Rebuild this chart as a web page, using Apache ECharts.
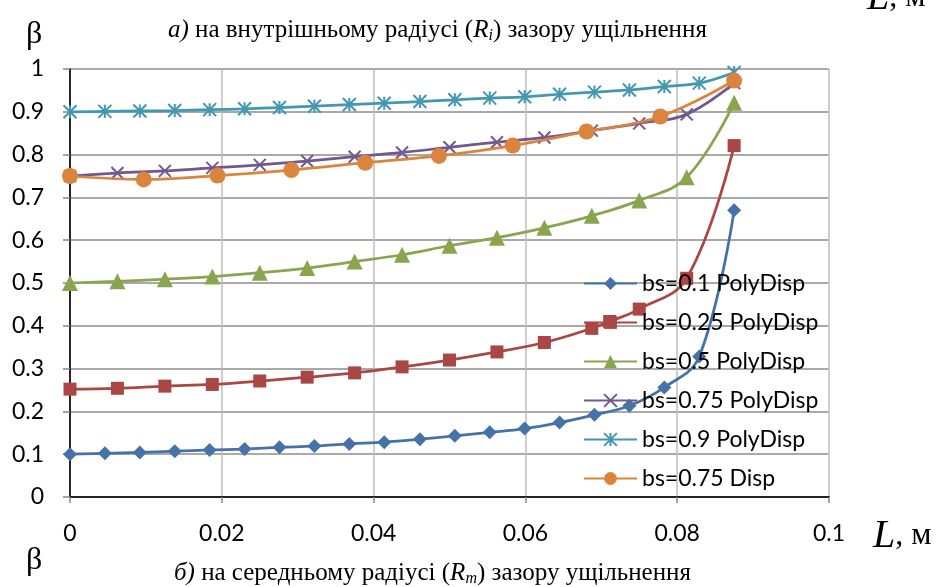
<!DOCTYPE html>
<html>
<head>
<meta charset="utf-8">
<script src="https://cdn.jsdelivr.net/npm/echarts@6/dist/echarts.min.js"></script>
<style>
html,body{margin:0;padding:0;background:#fff;}
#chart{width:945px;height:587px;}
</style>
</head>
<body>
<div id="chart"></div>
<script>
// ---- data ----
var seriesNames = ['bs=0.1 PolyDisp','bs=0.25 PolyDisp','bs=0.5 PolyDisp','bs=0.75 PolyDisp','bs=0.9 PolyDisp','bs=0.75 Disp'];
var xFine = [0, 0.0046, 0.0092, 0.0138, 0.0184, 0.0230, 0.0276, 0.0322, 0.0368, 0.0414, 0.0461, 0.0507, 0.0553, 0.0599, 0.0645, 0.0691, 0.0737, 0.0783, 0.0829, 0.0875];
var xMid = [0, 0.00625, 0.0125, 0.01875, 0.025, 0.03125, 0.0375, 0.04375, 0.05, 0.05625, 0.0625, 0.06875, 0.075, 0.08125, 0.0875];
var xRed = [0, 0.00625, 0.0125, 0.01875, 0.025, 0.03125, 0.0375, 0.04375, 0.05, 0.05625, 0.0625, 0.06875, 0.0711, 0.075, 0.08125, 0.0875];
var xCoarse = [0, 0.00972, 0.01944, 0.02917, 0.03889, 0.04861, 0.05833, 0.06806, 0.07778, 0.0875];
var yBs01 = [0.100,0.102,0.104,0.107,0.110,0.112,0.116,0.119,0.124,0.128,0.135,0.143,0.151,0.160,0.174,0.192,0.213,0.256,0.328,0.670];
var yBs025 = [0.252,0.254,0.259,0.263,0.271,0.280,0.290,0.304,0.320,0.339,0.361,0.394,0.410,0.439,0.511,0.821];
var yBs05 = [0.500,0.504,0.509,0.515,0.524,0.535,0.550,0.566,0.587,0.606,0.629,0.657,0.693,0.747,0.921];
var yBs075 = [0.750,0.757,0.762,0.769,0.776,0.785,0.795,0.805,0.817,0.829,0.840,0.856,0.873,0.894,0.967];
var yBs09 = [0.900,0.901,0.902,0.903,0.905,0.907,0.910,0.913,0.917,0.920,0.924,0.928,0.932,0.935,0.941,0.946,0.951,0.959,0.967,0.992];
var yBs075Disp = [0.750,0.742,0.751,0.764,0.781,0.797,0.821,0.854,0.889,0.973];
var xTicks = [0, 0.02, 0.04, 0.06, 0.08, 0.1];
var yTicks = [0, 0.1, 0.2, 0.3, 0.4, 0.5, 0.6, 0.7, 0.8, 0.9, 1];

function pairs(xs, ys){ return xs.map(function(x,i){ return [x, ys[i]]; }); }

var colors = ['#4572A7','#AA4643','#89A54E','#71588F','#4198AF','#DB843D'];
var xPath = 'path://M0,0L10,10M10,0L0,10';
var starPath = 'path://M5,0L5,10M0,0L10,10M10,0L0,10';
var AX_FONT = 'Lato';
var AX_SIZE = 23;

function mk(idx, data, symbol, size, stroke){
  var s = {
    name: seriesNames[idx], type: 'line', data: data, smooth: 0.4,
    xAxisIndex: 0, yAxisIndex: 0,
    symbol: symbol, symbolSize: size, symbolKeepAspect: true, showSymbol: true,
    lineStyle: {color: colors[idx], width: 2.75},
    itemStyle: {color: colors[idx]},
    z: 2 + idx
  };
  if (stroke) {
    s.itemStyle = {color: 'rgba(0,0,0,0)', borderColor: colors[idx], borderWidth: 2};
  }
  return s;
}

var titleRich = {
  it: {fontFamily: 'Liberation Serif', fontSize: 25, fontStyle: 'italic', lineHeight: 27},
  sub: {fontFamily: 'Liberation Serif', fontSize: 16, fontStyle: 'italic', lineHeight: 10, verticalAlign: 'bottom'}
};
var lRich = {
  L: {fontFamily: 'Liberation Serif', fontSize: 40, fontStyle: 'italic'},
  m: {fontFamily: 'Liberation Serif', fontSize: 32}
};

var chart = echarts.init(document.getElementById('chart'), null, {renderer: 'canvas'});
var option = {
  animation: false,
  backgroundColor: '#ffffff',
  grid: {left: 70, right: 116, top: 69, bottom: 90, containLabel: false},
  xAxis: [{
    type: 'value', min: xTicks[0], max: xTicks[xTicks.length-1], interval: 0.02,
    axisLine: {show: true, lineStyle: {color: '#868686', width: 1.5}},
    axisTick: {show: true, inside: false, length: 6, lineStyle: {color: '#868686', width: 1.5}},
    axisLabel: {color: '#000', fontFamily: AX_FONT, fontSize: AX_SIZE, margin: 25,
      formatter: function(v){ return xTicks.indexOf(Math.round(v*100)/100) >= 0 ? String(Math.round(v*100)/100) : ''; }},
    splitLine: {show: true, lineStyle: {color: '#BEBEBE', width: 1.5}}
  },{
    type: 'value', position: 'top', min: 0, max: 0.1,
    axisLine: {show: true, lineStyle: {color: '#000', width: 1.5}},
    axisTick: {show: false}, axisLabel: {show: false}, splitLine: {show: false}
  }],
  yAxis: [{
    type: 'value', min: yTicks[0], max: yTicks[yTicks.length-1], interval: 0.1,
    axisLine: {show: true, lineStyle: {color: '#868686', width: 1.5}},
    axisTick: {show: true, inside: false, length: 7, lineStyle: {color: '#868686', width: 1.5}},
    axisLabel: {color: '#000', fontFamily: AX_FONT, fontSize: AX_SIZE, margin: 26,
      formatter: function(v){ return String(Math.round(v*10)/10); }},
    splitLine: {show: true, lineStyle: {color: '#8C8C8C', width: 1.5}}
  },{
    type: 'value', position: 'right', min: 0, max: 1,
    axisLine: {show: true, lineStyle: {color: '#000', width: 1.5}},
    axisTick: {show: false}, axisLabel: {show: false}, splitLine: {show: false}
  }],
  legend: {
    orient: 'vertical', left: 578, top: 266,
    itemWidth: 53, itemHeight: 16, itemGap: 14,
    textStyle: {color: '#000', fontFamily: AX_FONT, fontSize: AX_SIZE, lineHeight: 25},
    data: seriesNames
  },
  series: [
    mk(0, pairs(xFine, yBs01), 'diamond', 14),
    mk(1, pairs(xRed, yBs025), 'rect', 13),
    mk(2, pairs(xMid, yBs05), 'triangle', 16),
    mk(3, pairs(xMid, yBs075), xPath, 12, true),
    mk(4, pairs(xFine, yBs09), starPath, 13, true),
    mk(5, pairs(xCoarse, yBs075Disp), 'circle', 16)
  ],
  graphic: [
    {type: 'text', left: 26, top: 19, style: {text: 'β', font: '32px "Liberation Serif"', fill: '#000'}},
    {type: 'text', left: 26, top: 545, style: {text: 'β', font: '32px "Liberation Serif"', fill: '#000'}},
    {type: 'text', x: 168, y: 17, style: {
      text: '{it|а)} на внутрішньому радіусі ({it|R}{sub|i}) зазору ущільнення',
      font: '25px "Liberation Serif"', fill: '#000', rich: titleRich, lineHeight: 27
    }},
    {type: 'text', x: 174, y: 560, style: {
      text: '{it|б)} на середньому радіусі ({it|R}{sub|m}) зазору ущільнення',
      font: '25px "Liberation Serif"', fill: '#000', rich: titleRich, lineHeight: 27
    }},
    {type: 'text', x: 873, y: 556, style: {
      text: '{L|L}{m|, м}', textVerticalAlign: 'bottom', fill: '#000', rich: lRich
    }},
    {type: 'text', x: 867, y: 18, style: {
      text: '{L|L}{m|, м}', textVerticalAlign: 'bottom', fill: '#000', rich: lRich
    }}
  ]
};
chart.setOption(option);
</script>
</body>
</html>
